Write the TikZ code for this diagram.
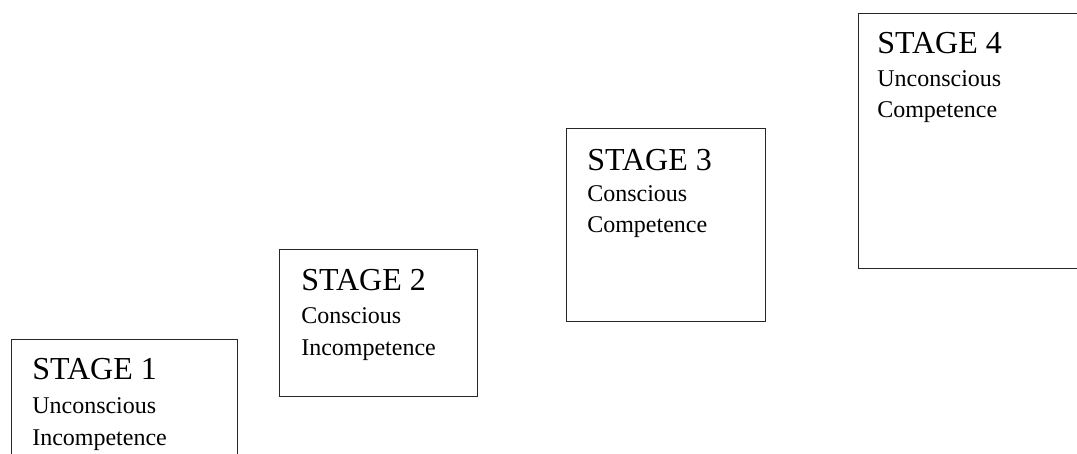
\documentclass[tikz,border=0pt]{standalone}
\usepackage{fontspec}
\setmainfont{Liberation Serif}
\tikzset{
  stagebox/.style={draw=black!85, line width=0.8pt, inner sep=0pt, anchor=north west},
  titletext/.style={anchor=base west, inner sep=0pt, font=\fontsize{24}{28}\selectfont},
  bodytext/.style={anchor=base west, inner sep=0pt, font=\fontsize{18}{22}\selectfont}
}
\begin{document}
\begin{tikzpicture}[x=0.75pt,y=-0.75pt]
\useasboundingbox (0,0) rectangle (1077,453);
\clip (0,0) rectangle (1077,453);
\fill[white] (0,0) rectangle (1077,453);
% Stage 1
\node[stagebox, minimum width=226*0.75pt, minimum height=140*0.75pt] (b1) at (11,339) {};
\node[titletext] (t1) at (32,379) {STAGE 1};
\node[bodytext] (u1) at (32,413) {Unconscious};
\node[bodytext] (v1) at (32,445) {Incompetence};
% Stage 2
\node[stagebox, minimum width=198*0.75pt, minimum height=147*0.75pt] (b2) at (279,249) {};
\node[titletext] (t2) at (301,290) {STAGE 2};
\node[bodytext] (u2) at (301,323) {Conscious};
\node[bodytext] (v2) at (301,355) {Incompetence};
% Stage 3
\node[stagebox, minimum width=199*0.75pt, minimum height=193*0.75pt] (b3) at (566,128) {};
\node[titletext] (t3) at (587,170) {STAGE 3};
\node[bodytext] (u3) at (587,201) {Conscious};
\node[bodytext] (v3) at (587,232) {Competence};
% Stage 4
\node[stagebox, minimum width=240*0.75pt, minimum height=255*0.75pt] (b4) at (858,13) {};
\node[titletext] (t4) at (877,54) {STAGE 4};
\node[bodytext] (u4) at (877,86) {Unconscious};
\node[bodytext] (v4) at (877,117) {Competence};
\end{tikzpicture}
\end{document}
